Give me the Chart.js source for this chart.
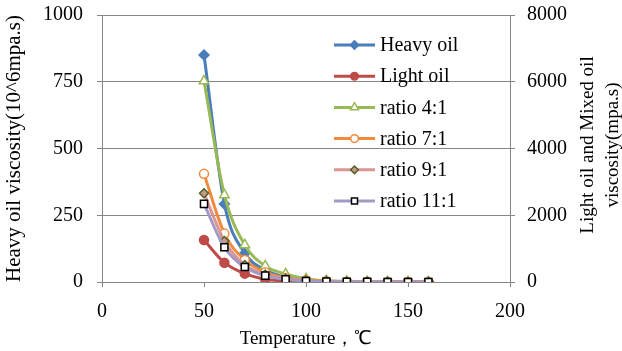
<!DOCTYPE html>
<html>
<head>
<meta charset="utf-8">
<script src="https://cdn.jsdelivr.net/npm/chart.js@4/dist/chart.umd.min.js"></script>
<style>
  body { margin: 0; background: #fff; }
  #wrap { width: 622px; height: 351px; }
</style>
</head>
<body>
<div id="wrap"><canvas id="viscChart"></canvas></div>
<script>
// temperature, deg C
const temps = [50, 60, 70, 80, 90, 100, 110, 120, 130, 140, 150, 160];
// heavy oil, left axis (10^6 mpa.s)
const heavyOil = [850, 292, 108, 45, 18, 8, 4, 2, 1, 1, 0.5, 0.5];
// the rest on the right axis (mpa.s)
const lightOil = [1260, 578, 250, 85, 30, 12, 6, 3, 2, 1, 1, 1];
const ratio4 = [6020, 2610, 1110, 480, 240, 90, 40, 20, 10, 5, 3, 2];
const ratio7 = [3240, 1450, 660, 290, 120, 50, 20, 10, 5, 3, 2, 1];
const ratio9 = [2660, 1230, 510, 220, 95, 40, 18, 8, 4, 2, 1, 1];
const ratio11 = [2340, 1040, 450, 190, 80, 30, 12, 6, 3, 2, 1, 1];

const leftTicks = [0, 250, 500, 750, 1000];
const rightTicks = [0, 2000, 4000, 6000, 8000];
const xTicks = [0, 50, 100, 150, 200];

const FONT = "'Liberation Serif', 'Times New Roman', serif";
const gridGray = '#868686';
const tickFont = { family: FONT, size: 20 };
const titleFont = { family: FONT, size: 19 };

const pts = arr => arr.map((v, i) => ({ x: temps[i], y: v }));

const mk = (label, data, axis, color, style, radius, fill, border, order) => ({
    label: label,
    data: pts(data),
    yAxisID: axis,
    borderColor: color,
    borderWidth: 3,
    pointStyle: style,
    pointRadius: radius,
    pointBackgroundColor: fill,
    pointBorderColor: border,
    pointBorderWidth: 1.5,
    cubicInterpolationMode: 'monotone',
    order: order
});

const datasets = [
    mk('Heavy oil', heavyOil, 'yL', '#4A7EBB', 'rectRot', 5, '#4A7EBB', '#4A7EBB', 6),
    mk('Light oil', lightOil, 'yR', '#BE4B48', 'circle', 4.5, '#BE4B48', '#BE4B48', 5),
    mk('ratio 4:1', ratio4, 'yR', '#98B954', 'triangle', 5.5, '#ffffff', '#98B954', 4),
    mk('ratio 7:1', ratio7, 'yR', '#F08A3C', 'circle', 4.5, '#ffffff', '#F08A3C', 3),
    mk('ratio 9:1', ratio9, 'yR', '#D99694', 'rectRot', 4.5, '#C8968A', '#4F6228', 2),
    mk('ratio 11:1', ratio11, 'yR', '#A499C4', 'rect', 5, '#ffffff', '#000000', 1)
];

// legend drawn inside the plot area, line + marker like the original
const insideLegend = {
    id: 'insideLegend',
    afterDraw(chart) {
        const ctx = chart.ctx;
        const x0 = 334, x1 = 375, top = 45, step = 31.2;
        ctx.save();
        datasets.forEach((ds, i) => {
            const y = top + i * step;
            ctx.strokeStyle = ds.borderColor;
            ctx.lineWidth = 3;
            ctx.beginPath();
            ctx.moveTo(x0, y);
            ctx.lineTo(x1, y);
            ctx.stroke();
            ctx.fillStyle = ds.pointBackgroundColor;
            ctx.strokeStyle = ds.pointBorderColor;
            ctx.lineWidth = 1.5;
            Chart.helpers.drawPoint(ctx, {
                pointStyle: ds.pointStyle,
                radius: ds.pointRadius * 0.85,
                rotation: 0,
                borderWidth: 1.5
            }, (x0 + x1) / 2, y);
            ctx.fillStyle = '#000';
            ctx.font = '20px ' + FONT;
            ctx.textAlign = 'left';
            ctx.textBaseline = 'middle';
            ctx.fillText(ds.label, 380, y + 1);
        });
        ctx.restore();
    }
};

// right axis title reads bottom-to-top in the original
const rightTitle = {
    id: 'rightTitle',
    afterDraw(chart) {
        const ctx = chart.ctx;
        ctx.save();
        ctx.fillStyle = '#000';
        ctx.font = '19px ' + FONT;
        ctx.textAlign = 'center';
        ctx.textBaseline = 'middle';
        ctx.translate(600, 145);
        ctx.rotate(-Math.PI / 2);
        ctx.fillText('Light oil and Mixed oil', 0, -12);
        ctx.fillText('viscosity(mpa.s)', 0, 13);
        ctx.restore();
    }
};

const noPad = s => { s.paddingTop = 0; s.paddingBottom = 0; };

new Chart(document.getElementById('viscChart'), {
    type: 'line',
    data: { datasets: datasets },
    options: {
        responsive: true,
        maintainAspectRatio: false,
        animation: false,
        layout: { padding: { top: 15, left: 0, right: 0, bottom: 0 } },
        plugins: {
            legend: { display: false },
            tooltip: { enabled: false }
        },
        scales: {
            x: {
                type: 'linear',
                min: 0,
                max: 200,
                afterFit: s => { s.height = 69; s.paddingLeft = 0; s.paddingRight = 0; },
                afterBuildTicks: s => { s.ticks = xTicks.map(v => ({ value: v })); },
                grid: { drawOnChartArea: false, color: gridGray, tickLength: 5 },
                border: { color: gridGray },
                ticks: { color: '#000', font: tickFont, padding: 13, maxRotation: 0, callback: v => String(v) },
                title: { display: true, text: 'Temperature，℃', color: '#000', font: titleFont, padding: { top: 0, bottom: 1 } }
            },
            yL: {
                position: 'left',
                min: 0,
                max: 1000,
                afterFit: s => { s.width = 102; noPad(s); },
                afterBuildTicks: s => { s.ticks = leftTicks.map(v => ({ value: v })); },
                grid: { color: gridGray, tickLength: 5 },
                border: { color: gridGray },
                ticks: { color: '#000', font: tickFont, padding: 14, callback: v => String(v) },
                title: { display: true, text: 'Heavy oil viscosity(10^6mpa.s)', color: '#000', font: { family: FONT, size: 21 }, padding: { top: 2, bottom: 0 } }
            },
            yR: {
                position: 'right',
                min: 0,
                max: 8000,
                afterFit: s => { s.width = 112; noPad(s); },
                afterBuildTicks: s => { s.ticks = rightTicks.map(v => ({ value: v })); },
                grid: { drawOnChartArea: false, color: gridGray, tickLength: 5 },
                border: { color: gridGray },
                ticks: { color: '#000', font: tickFont, padding: 12, callback: v => String(v) }
            }
        }
    },
    plugins: [insideLegend, rightTitle]
});
</script>
</body>
</html>
